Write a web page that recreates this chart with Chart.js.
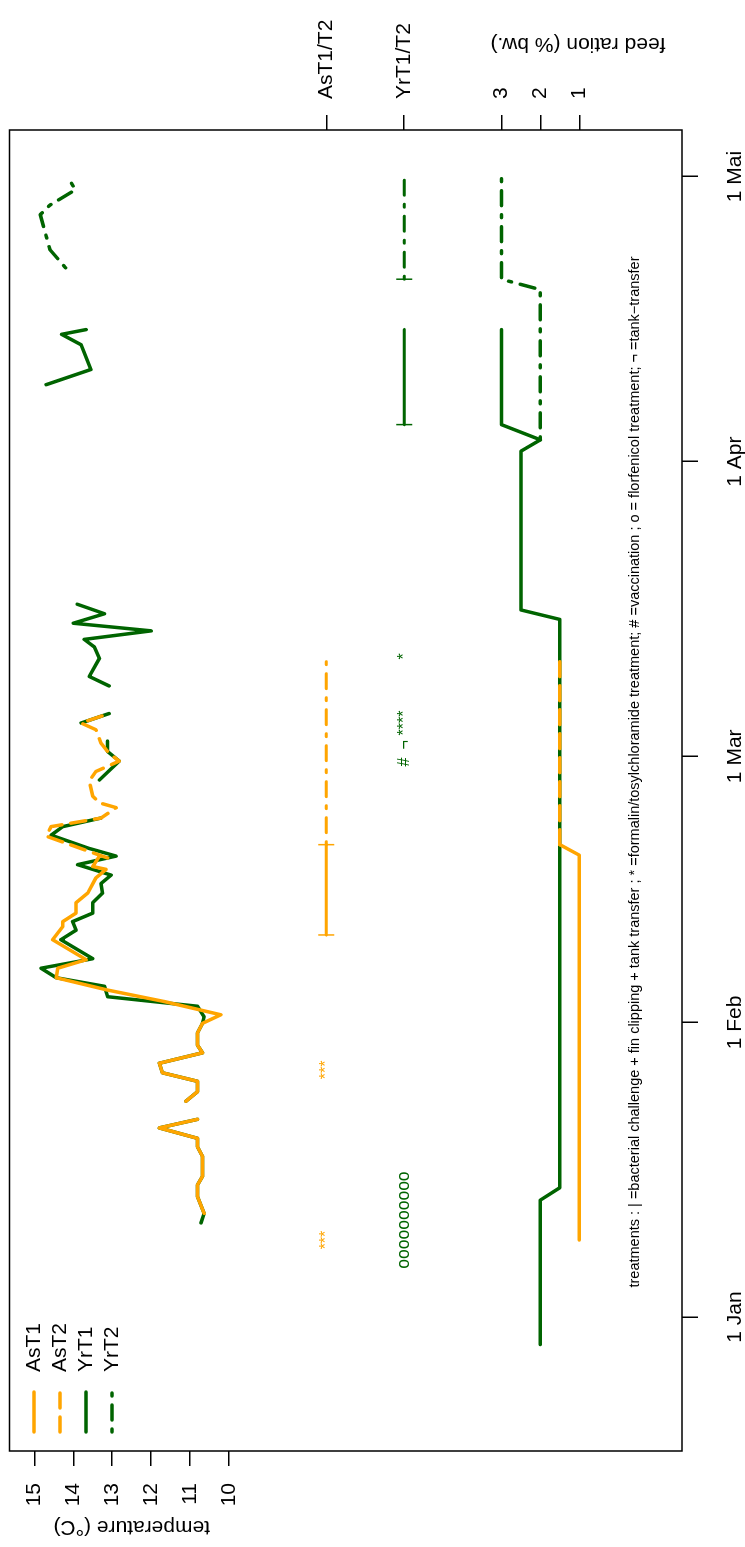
<!DOCTYPE html>
<html>
<head>
<meta charset="utf-8">
<script src="https://cdn.jsdelivr.net/npm/chart.js@4.4.0/dist/chart.umd.min.js"></script>
<style>
  html, body { margin: 0; padding: 0; background: #fff; }
  body { width: 745px; height: 1547px; overflow: hidden; position: relative; }
  /* the plot is drawn landscape and turned a quarter turn, like the original figure */
  #wrap { position: absolute; left: 0; top: 0; width: 1547px; height: 745px;
          transform-origin: 0 0; transform: translateY(1547px) rotate(-90deg); }
</style>
</head>
<body>
<div id="wrap"><canvas id="chart" width="1547" height="745"></canvas></div>
<script>
const ORANGE = '#FFA500';
const GREEN = '#006400';
const FONT = "'Liberation Sans', Arial, Helvetica, sans-serif";

// days counted from 1 Jan
const dateTicks = [0, 31, 59, 90, 120];
const dateLabels = ['1 Jan', '1 Feb', '1 Mar', '1 Apr', '1 Mai'];
const tempTicks = [10, 11, 12, 13, 14, 15];
const rationTicks = [1, 2, 3, 5.5, 7.5];
const rationLabels = ['1', '2', '3', 'YrT1/T2', 'AsT1/T2'];

// water temperature
const ast1Day  = [10.9, 12.7, 13.9, 14.8, 16.9, 17.9, 18.8, 19.9, 20.8, 21.7, 22.7, 23.7, 24.8, 25.7, 26.7, 27.8, 28.6, 29.9, 30.9, 31.8, 33.2, 34.4, 35.7, 36.7, 37.6, 39.7, 41.1, 41.6, 42.5, 43.6, 44.6, 46.2, 47.1, 47.4, 48.5];
const ast1Temp = [10.64, 10.81, 10.81, 10.68, 10.68, 10.81, 10.81, 11.79, 10.81, null, 11.11, 10.81, 10.81, 11.71, 11.79, 10.68, 10.81, 10.81, 10.68, 10.21, 11.67, 13.12, 14.44, 14.40, 13.67, 14.53, 14.27, 14.27, 13.93, 13.93, 13.63, 13.42, 13.16, 13.50, 13.33];

const ast2Day  = [48.3, 50.6, 51.6, 52.5, 53.6, 54.1, 54.8, 56.4, 57.4, 58.5, 59.3, 60.4, 61.8, 62.5, 63.5];
const ast2Temp = [13.12, 14.70, 14.57, 13.29, 12.90, 13.33, 13.50, 13.59, 13.42, 12.82, 13.08, 13.29, 13.42, 13.80, 13.08];

const yrt1Day  = [9.9, 10.9, 12.7, 13.9, 14.8, 16.9, 17.9, 18.8, 19.9, 20.8, 21.7, 22.7, 23.7, 24.8, 25.7, 26.7, 27.8, 28.6, 29.9, 30.9, 31.6, 32.7, 33.7, 34.8, 35.7, 36.7, 37.7, 39.7, 40.7, 41.6, 42.5, 43.6, 44.6, 45.6, 46.5, 47.1, 47.6, 48.5, 49.3, 50.7, 51.6, 52.5, 54.0, 56.5, 58.5, 59.5, 60.6, 61.5, 62.5, 63.5, 65.0, 66.4, 67.4, 69.3, 70.5, 71.3, 72.2, 73.0, 74.0, 75.0, 86.0, 98.1, 99.7, 102.3, 103.4, 103.9];
const yrt1Temp = [10.72, 10.64, 10.81, 10.81, 10.68, 10.68, 10.81, 10.81, 11.79, 10.81, null, 11.11, 10.81, 10.81, 11.71, 11.79, 10.68, 10.81, 10.81, 10.68, 10.64, 10.81, 13.12, 13.20, 14.44, 14.83, 13.50, 14.32, 13.93, 14.02, 13.50, 13.50, 13.25, 13.29, 13.03, 13.50, 13.89, 12.90, 13.59, 14.57, 14.27, 13.29, null, 13.33, 12.82, 13.12, 13.12, null, 13.80, 13.08, null, 13.08, 13.59, 13.33, 13.46, 13.72, 12.0, 14.0, 13.2, 13.9, null, 14.7, 13.55, 13.8, 14.3, 13.67];

const yrt2Day  = [110.4, 112.3, 116.0, 117.0, 118.6, 119.7];
const yrt2Temp = [14.2, 14.6, 14.85, 14.6, 13.95, 14.1];

// feed ration (% bw.)
const feedAsT1Day = [8.1, 48.6, 49.7];
const feedAsT1    = [1.0, 1.0, 1.5];
const feedAsT2Day = [49.7, 69.2];
const feedAsT2    = [1.5, 1.5];
const feedYrT1Day = [-2.9, 12.3, 13.6, 73.4, 74.4, 91.1, 92.3, 93.9, 103.9];
const feedYrT1    = [2.0, 2.0, 1.5, 1.5, 2.5, 2.5, 2.0, 3.0, 3.0];
const feedYrT2Day = [92.3, 108.1, 109.2, 119.9];
const feedYrT2    = [2.0, 2.0, 3.0, 3.0];

// treatment periods on the AsT1/T2 and YrT1/T2 rows
const trtAsT1Day = [40.2, 49.7];
const trtAsT2Day = [49.7, 69.2];
const trtYrT1Day = [93.9, 103.9];
const trtYrT2Day = [109.2, 119.9];

// treatment symbols
const markDay   = [8.1, 26.0, 10.2, 58.4, 60.2, 62.5, 69.5];
const markLevel = [7.5, 7.5, 5.5, 5.5, 5.5, 5.5, 5.5];
const markText  = ['***', '***', 'oooooooooo', '#', '\u00ac', '****', '*'];
const markColor = [ORANGE, ORANGE, GREEN, GREEN, GREEN, GREEN, GREEN];

const legendNames = ['AsT1', 'AsT2', 'YrT1', 'YrT2'];
const legendColors = [ORANGE, ORANGE, GREEN, GREEN];

const DASH = [15, 9];
const DOTDASH = [3, 9, 15, 9];

function pts(days, vals) {
  return days.map((d, i) => ({ x: d, y: vals[i] }));
}
function flat(days, level) {
  return days.map(d => ({ x: d, y: level }));
}

function line(label, data, color, dash, w) {
  return {
    label: label, data: data, borderColor: color, backgroundColor: color,
    borderWidth: w || 3.5, borderDash: dash || [], borderCapStyle: 'round',
    borderJoinStyle: 'round', pointRadius: 0, spanGaps: false, tension: 0
  };
}
function trt(label, data, color, dash) {
  const d = line(label, data, color, dash, 3);
  d.pointRadius = [8, 0];
  d.pointStyle = 'line';
  d.rotation = 90;
  d.pointBorderColor = color;
  d.pointBorderWidth = 1.5;
  return d;
}

const datasets = [
  line('AsT1', pts(ast1Day, ast1Temp), ORANGE),
  line('AsT2', pts(ast2Day, ast2Temp), ORANGE, DASH),
  line('feed AsT1', pts(feedAsT1Day, feedAsT1), ORANGE),
  line('feed AsT2', pts(feedAsT2Day, feedAsT2), ORANGE, DASH),
  trt('trt AsT1', flat(trtAsT1Day, 7.5), ORANGE),
  trt('trt AsT2', flat(trtAsT2Day, 7.5), ORANGE, DOTDASH),
  line('YrT1', pts(yrt1Day, yrt1Temp), GREEN),
  line('YrT2', pts(yrt2Day, yrt2Temp), GREEN, DOTDASH),
  line('feed YrT1', pts(feedYrT1Day, feedYrT1), GREEN),
  line('feed YrT2', pts(feedYrT2Day, feedYrT2), GREEN, DOTDASH),
  trt('trt YrT1', flat(trtYrT1Day, 5.5), GREEN),
  trt('trt YrT2', flat(trtYrT2Day, 5.5), GREEN, DOTDASH)
];

const extras = {
  id: 'extras',
  afterDatasetsDraw(chart) {
    const ctx = chart.ctx, x = chart.scales.x, y = chart.scales.y;
    ctx.save();
    ctx.textAlign = 'center';
    ctx.textBaseline = 'middle';
    for (let i = 0; i < markDay.length; i++) {
      ctx.font = (markText[i].length > 5 ? '17.5px ' : '16px ') + FONT;
      ctx.fillStyle = markColor[i];
      ctx.fillText(markText[i], x.getPixelForValue(markDay[i]), y.getPixelForValue(markLevel[i]));
    }
    ctx.restore();
  },
  afterDraw(chart) {
    const ctx = chart.ctx, a = chart.chartArea, y = chart.scales.y;
    ctx.save();
    ctx.strokeStyle = '#000';
    ctx.lineWidth = 1.5;
    ctx.strokeRect(a.left, a.top, a.right - a.left, a.bottom - a.top);

    // legend
    ctx.font = '21px ' + FONT;
    ctx.textBaseline = 'middle';
    ctx.textAlign = 'left';
    for (let i = 0; i < legendNames.length; i++) {
      const ly = 34 + i * 26;
      ctx.strokeStyle = legendColors[i];
      ctx.lineWidth = 3.5;
      ctx.lineCap = 'round';
      ctx.setLineDash(i === 1 ? DASH : (i === 3 ? DOTDASH : []));
      ctx.beginPath();
      ctx.moveTo(a.left + 19, ly);
      ctx.lineTo(a.left + 59, ly);
      ctx.stroke();
      ctx.setLineDash([]);
      ctx.fillStyle = '#000';
      ctx.fillText(legendNames[i], a.left + 79, ly);
    }

    // treatment note
    ctx.font = '14.5px ' + FONT;
    ctx.textAlign = 'center';
    ctx.fillText('treatments : | =bacterial challenge + fin clipping + tank transfer ; * =formalin/tosylchloramide treatment; # =vaccination ; o = florfenicol treatment; \u00ac =tank\u2212transfer', 775, 635);

    // axis titles, both read upward
    ctx.font = '21px ' + FONT;
    ctx.save();
    ctx.translate(20, y.getPixelForValue(12.5));
    ctx.rotate(-Math.PI / 2);
    ctx.fillText('temperature (\u00b0C)', 0, 0);
    ctx.restore();
    ctx.save();
    ctx.translate(1503, 578);
    ctx.rotate(-Math.PI / 2);
    ctx.fillText('feed ration (% bw.)', 0, 0);
    ctx.restore();
    ctx.restore();
  }
};

function noPad(s) {
  s.paddingTop = 0; s.paddingBottom = 0; s.paddingLeft = 0; s.paddingRight = 0;
}

new Chart(document.getElementById('chart'), {
  type: 'line',
  data: { datasets: datasets },
  options: {
    responsive: false,
    animation: false,
    devicePixelRatio: 1,
    layout: { padding: { top: 8, left: 0, right: 0, bottom: 0 } },
    plugins: { legend: { display: false }, tooltip: { enabled: false } },
    scales: {
      x: {
        type: 'linear', min: -14.1, max: 124.9,
        afterBuildTicks: s => { s.ticks = dateTicks.map(v => ({ value: v })); },
        afterFit: s => { s.height = 63; noPad(s); },
        ticks: { callback: (v, i) => dateLabels[i], font: { size: 21, family: FONT }, color: '#000', padding: 25, maxRotation: 0, autoSkip: false },
        grid: { drawOnChartArea: false, tickLength: 16, color: '#000', lineWidth: 1.5 },
        border: { display: false }
      },
      y: {
        position: 'left', min: -1.64, max: 15.64,
        afterBuildTicks: s => { s.ticks = tempTicks.map(v => ({ value: v })); },
        afterFit: s => { s.width = 96; noPad(s); },
        ticks: { font: { size: 21, family: FONT }, color: '#000', padding: 17, crossAlign: 'near', autoSkip: false },
        grid: { drawOnChartArea: false, tickLength: 15, color: '#000', lineWidth: 1.5 },
        border: { display: false }
      },
      y2: {
        position: 'right', min: -1.64, max: 15.64,
        afterBuildTicks: s => { s.ticks = rationTicks.map(v => ({ value: v })); },
        afterFit: s => { s.width = 130; noPad(s); },
        ticks: { callback: (v, i) => rationLabels[i], font: { size: 21, family: FONT }, color: '#000', padding: 16, crossAlign: 'near', autoSkip: false },
        grid: { drawOnChartArea: false, tickLength: 15, color: '#000', lineWidth: 1.5 },
        border: { display: false }
      }
    }
  },
  plugins: [extras]
});
</script>
</body>
</html>
